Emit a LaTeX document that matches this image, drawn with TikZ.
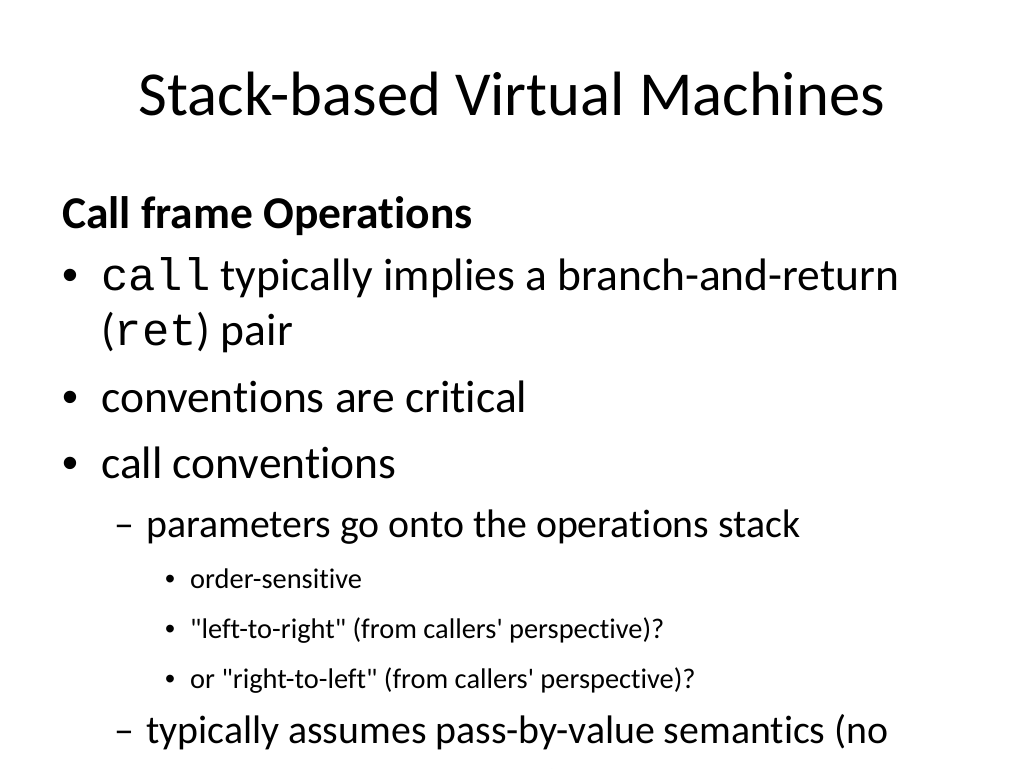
\documentclass[tikz,border=0pt]{standalone}
\usepackage{fontspec}
\setmainfont{Carlito}[Ligatures={NoCommon}]
\newfontfamily\plain{Carlito}[Ligatures={NoCommon}]
\setmonofont{Liberation Mono}
\newfontfamily\bulfont{Liberation Sans}
\begin{document}
\begin{tikzpicture}[x=1pt,y=-1pt,
  t/.style={anchor=base west,inner sep=0pt,text=black},
  l1/.style={t,font=\plain\fontsize{45.5}{50}\selectfont},
  l2/.style={t,font=\plain\fontsize{39.8}{44}\selectfont},
  l3/.style={t,font=\plain\fontsize{28.4}{32}\selectfont}]
\useasboundingbox (0,0) rectangle (1024,768);
\clip (0,0) rectangle (1024,768);
\fill[white] (0,0) rectangle (1024,768);
\node[t,anchor=base,font=\plain\fontsize{62.6}{66}\selectfont] (title) at (512,115) {Stack-based Virtual Machines};
\node[l1,font=\plain\bfseries\fontsize{45.5}{50}\selectfont] (h) at (62,228) {Call frame Operations};
\node[l1] (b1) at (62,290) {\bulfont •};
\node[l1] (t1) at (101,290) {\texttt{call} typically implies a branch-and-return};
\node[l1] (t1b) at (101,345) {(\texttt{ret}) pair};
\node[l1] (b2) at (62,412) {\bulfont •};
\node[l1] (t2) at (101,412) {conventions are critical};
\node[l1] (b3) at (62,478) {\bulfont •};
\node[l1] (t3) at (101,478) {call conventions};
\node[l2] (d1) at (114,537) {–};
\node[l2] (s1) at (146,537) {parameters go onto the operations stack};
\node[l3] (c1) at (165,588) {\bulfont •};
\node[l3] (u1) at (190,588) {order-sensitive};
\node[l3] (c2) at (165,638) {\bulfont •};
\node[l3] (u2) at (190,638) {"left-to-right" (from callers' perspective)?};
\node[l3] (c3) at (165,688) {\bulfont •};
\node[l3] (u3) at (190,688) {or "right-to-left" (from callers' perspective)?};
\node[l2] (d2) at (114,743) {–};
\node[l2] (s2) at (146,743) {typically assumes pass-by-value semantics (no};
\node[l2] (s2b) at (146,798) {immediate modifications)};
\end{tikzpicture}
\end{document}
